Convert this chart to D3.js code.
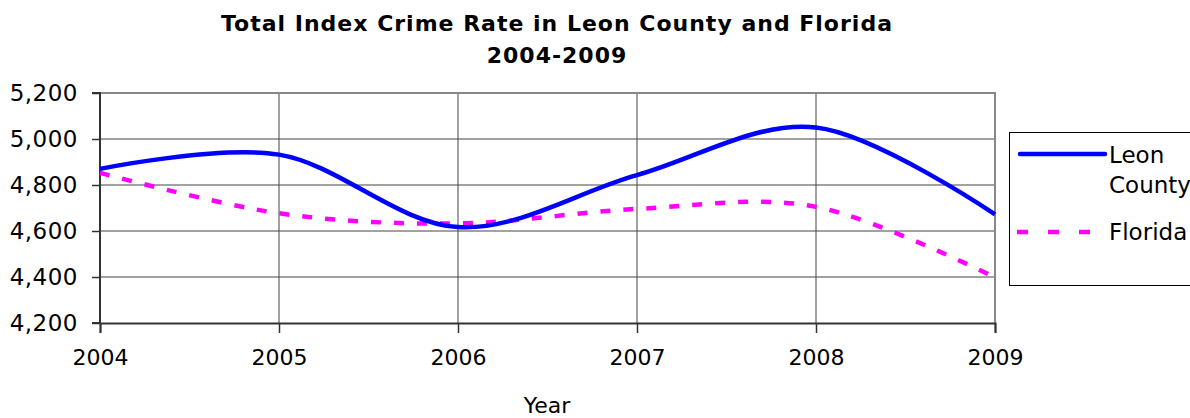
<!DOCTYPE html>
<html><head><meta charset="utf-8">
<script src="https://cdn.jsdelivr.net/npm/d3@7/dist/d3.min.js"></script>
<style>body{margin:0;background:#fff}svg{display:block}</style>
</head><body>
<script>
const years = [2004, 2005, 2006, 2007, 2008, 2009];
const leonCounty = [4870, 4932, 4617, 4843, 5050, 4672];
const florida = [4853, 4677, 4633, 4696, 4705, 4398];
const yTicks = [4200, 4400, 4600, 4800, 5000, 5200];
const titleLines = ["Total Index Crime Rate in Leon County and Florida", "2004-2009"];
const seriesNames = ["Leon County", "Florida"];

const W = 1190, H = 418;
const svg = d3.select("body").append("svg").attr("width", W).attr("height", H);
const font = "Verdana, 'DejaVu Sans', sans-serif";
const L = 100, R = 995, T = 93, B = 323;
const x = d3.scaleLinear().domain([2004, 2009]).range([L, R]);
const y = d3.scaleLinear().domain([4200, 5200]).range([B, T]);

// gridlines
svg.append("g").selectAll("line.h").data(yTicks.slice(1, -1)).join("line")
  .attr("x1", L).attr("x2", R).attr("y1", d => y(d)).attr("y2", d => y(d))
  .attr("stroke", "#444").attr("stroke-width", 1);
svg.append("g").selectAll("line.v").data(years.slice(1, -1)).join("line")
  .attr("y1", T).attr("y2", B).attr("x1", d => x(d)).attr("x2", d => x(d))
  .attr("stroke", "#444").attr("stroke-width", 1);
// top/right border
svg.append("path").attr("d", `M${L},${T}H${R}V${B}`).attr("fill", "none")
  .attr("stroke", "#888").attr("stroke-width", 2);

// axes
const yAxis = d3.axisLeft(y).tickValues(yTicks).tickSize(8).tickPadding(14).tickFormat(d3.format(","));
const gy = svg.append("g").attr("transform", `translate(${L},0)`).call(yAxis);
const xAxis = d3.axisBottom(x).tickValues(years).tickSize(10).tickPadding(16).tickFormat(d3.format("d"));
const gx = svg.append("g").attr("transform", `translate(0,${B})`).call(xAxis);
[gy, gx].forEach(g => {
  g.select(".domain").attr("stroke", "#333").attr("stroke-width", 2);
  g.selectAll(".tick line").attr("stroke", "#333").attr("stroke-width", 1.5);
  g.selectAll(".tick text").attr("font-family", font).attr("font-size", 22).attr("fill", "#000");
});
gy.selectAll(".tick text").attr("font-size", 23).attr("letter-spacing", 0.5);
gy.select(".domain").attr("d", `M-8,${T}H0V${B}H-8`);

const line = d3.line().x((d, i) => x(years[i])).y(d => y(d)).curve(d3.curveCatmullRom.alpha(0));
svg.append("path").datum(florida).attr("d", line).attr("fill", "none")
  .attr("stroke", "#FF00FF").attr("stroke-width", 4.5).attr("stroke-dasharray", "10,13");
svg.append("path").datum(leonCounty).attr("d", line).attr("fill", "none")
  .attr("stroke", "#0000FF").attr("stroke-width", 4.5);

// title
svg.append("text").attr("x", 557).attr("y", 31).attr("text-anchor", "middle")
  .attr("font-family", font).attr("font-weight", "bold").attr("font-size", 22).attr("letter-spacing", 1).text(titleLines[0]);
svg.append("text").attr("x", 557).attr("y", 63).attr("text-anchor", "middle")
  .attr("font-family", font).attr("font-weight", "bold").attr("font-size", 22).attr("letter-spacing", 1).text(titleLines[1]);

// x title
svg.append("text").attr("x", 547).attr("y", 413).attr("text-anchor", "middle")
  .attr("font-family", font).attr("font-size", 22).text("Year");

// legend
const lg = svg.append("g");
lg.append("rect").attr("x", 1009.5).attr("y", 132.5).attr("width", 200).attr("height", 153)
  .attr("fill", "#fff").attr("stroke", "#000").attr("stroke-width", 1);
lg.append("line").attr("x1", 1020).attr("x2", 1105).attr("y1", 154).attr("y2", 154)
  .attr("stroke", "#0000FF").attr("stroke-width", 4.5).attr("stroke-linecap", "round");
lg.append("line").attr("x1", 1017).attr("x2", 1090).attr("y1", 232).attr("y2", 232)
  .attr("stroke", "#FF00FF").attr("stroke-width", 4.5).attr("stroke-dasharray", "11,20");
const lt = lg.append("text").attr("font-family", font).attr("font-size", 23).attr("fill", "#000");
lt.append("tspan").attr("x", 1109).attr("y", 163).text(seriesNames[0].split(" ")[0]);
lt.append("tspan").attr("x", 1109).attr("y", 193).text(seriesNames[0].split(" ")[1]);
lg.append("text").attr("x", 1109).attr("y", 240).attr("font-family", font).attr("font-size", 23).text(seriesNames[1]);
</script>
</body></html>
